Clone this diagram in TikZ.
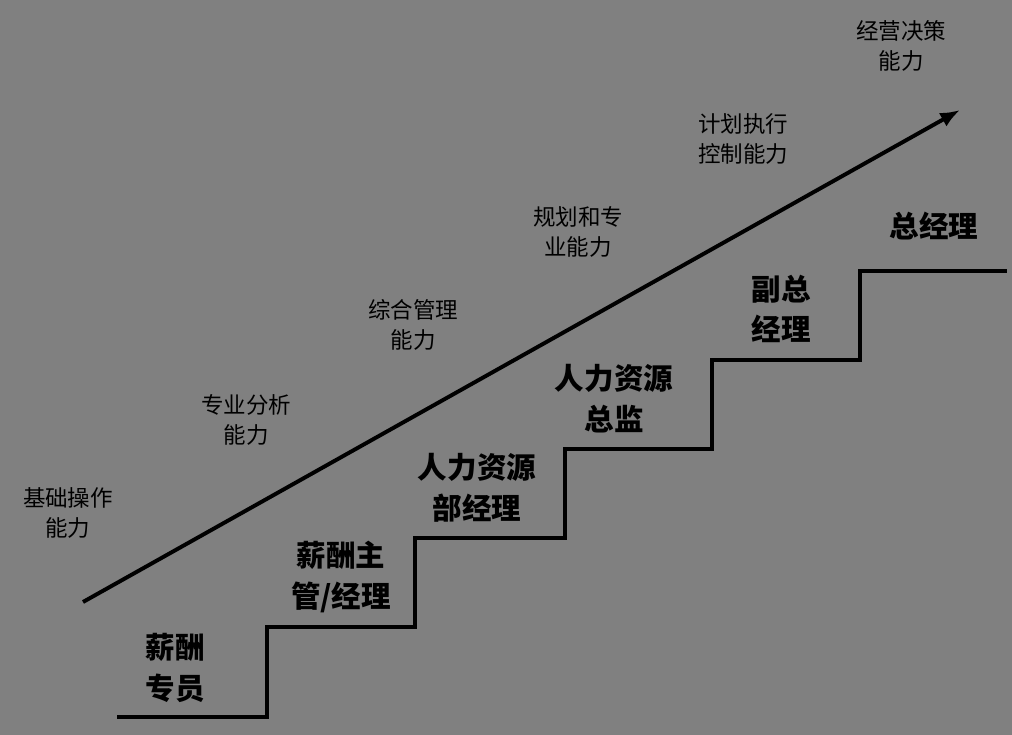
\documentclass[tikz,border=0pt]{standalone}
\usepackage{fontspec}
\usetikzlibrary{arrows.meta}
\newfontfamily\cjk{Noto Sans CJK SC}
\begin{document}
\begin{tikzpicture}[x=0.025cm,y=-0.025cm,
  big/.style={font=\cjk\bfseries\fontsize{21}{29}\selectfont,align=center,text=black},
  small/.style={font=\cjk\fontsize{16}{21}\selectfont,align=center,text=black},
  line/.style={line width=2.8pt,black}]
\fill[fill={rgb,255:red,128;green,128;blue,128}] (0,0) rectangle (1012,735);
\useasboundingbox (0,0) rectangle (1012,735);
\coordinate (s0) at (117,717);
\coordinate (s1) at (1007,271);
\draw[line] (s0) -- (267,717) -- (267,627) -- (415,627) -- (415,538) -- (565,538) -- (565,449) -- (712,449) -- (712,360) -- (860,360) -- (860,271) -- (s1);
\coordinate (a0) at (83,602);
\coordinate (a1) at (960,110);
\draw[line,-{Latex[length=14pt,width=11pt]}] (a0) -- (a1);
\node[big] (b1) at (175,668) {薪酬\\专员};
\node[big] (b2) at (341,577) {薪酬主\\管/经理};
\node[big] (b3) at (477,488) {人力资源\\部经理};
\node[big] (b4) at (614,399) {人力资源\\总监};
\node[big] (b5) at (781,309) {副总\\经理};
\node[big] (b6) at (934,226) {总经理};
\node[small] (c1) at (68,513) {基础操作\\能力};
\node[small] (c2) at (246,420) {专业分析\\能力};
\node[small] (c3) at (413,325) {综合管理\\能力};
\node[small] (c4) at (578,232) {规划和专\\业能力};
\node[small] (c5) at (743,139) {计划执行\\控制能力};
\node[small] (c6) at (901,46) {经营决策\\能力};
\end{tikzpicture}
\end{document}
